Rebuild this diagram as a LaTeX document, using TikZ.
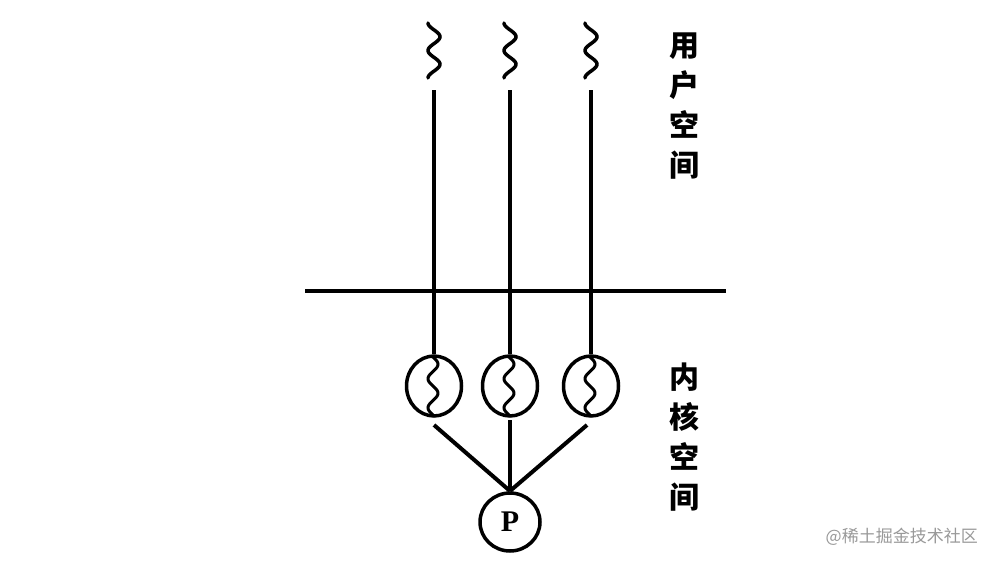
\documentclass[tikz,border=0pt]{standalone}
\usepackage{fontspec}
\usetikzlibrary{shapes.geometric}
\newfontfamily\cjk{Noto Sans CJK SC}
\newfontfamily\pfont{Liberation Serif}
\begin{document}
\begin{tikzpicture}[x=1pt,y=-1pt,
  wire/.style={line width=4pt},
  thread/.style={ellipse,draw,line width=3.5pt,minimum width=55pt,minimum height=60pt,inner sep=0pt},
  pnode/.style={ellipse,draw,line width=3.5pt,minimum width=60pt,minimum height=58pt,inner sep=0pt,font=\pfont\bfseries\fontsize{30}{30}\selectfont},
  lbl/.style={font=\cjk\bfseries\fontsize{30}{40}\selectfont,align=center,inner sep=0pt},
  wmark/.style={font=\cjk\fontsize{17}{17}\selectfont,text=gray!80,inner sep=0pt},
  sq/.style={line width=3.5pt,line cap=round}]
\useasboundingbox[fill=white] (0,0) rectangle (996,562);
% boundary line
\coordinate (bl) at (305,291);
\coordinate (br) at (726,291);
\draw[line width=4.5pt] (bl) -- (br);
% kernel threads
\node[thread] (t1) at (434,386) {};
\node[thread] (t2) at (510,386) {};
\node[thread] (t3) at (591,386) {};
\node[pnode] (P) at (510,522) {P};
\foreach \i/\px in {1/434,2/510,3/591}{
  % user-space squiggle
  \draw[sq] plot[domain=0:1,samples=60,smooth] ({\px+6*cos(180+720*\x)}, {23+55*\x});
  % line from user space to kernel thread
  \coordinate (u\i) at (\px,90);
  \draw[wire] (u\i) -- (t\i.north);
  % squiggle inside circle
  \draw[line width=3pt] plot[domain=0:1,samples=50,smooth] ({\px-1+5*sin(720*\x)}, {357+58*\x});
}
% lines to P
\coordinate (m) at (510,491);
\coordinate (s1) at (434,425);
\coordinate (s2) at (510,420);
\coordinate (s3) at (587,425);
\draw[wire] (s1) -- (m);
\draw[wire] (s2) -- (m);
\draw[wire] (s3) -- (m);
% labels
\node[lbl] (ul) at (684,106) {用\\户\\空\\间};
\node[lbl] (kl) at (684,437) {内\\核\\空\\间};
\node[wmark,anchor=east] (wm) at (978,537) {@稀土掘金技术社区};
\end{tikzpicture}
\end{document}
